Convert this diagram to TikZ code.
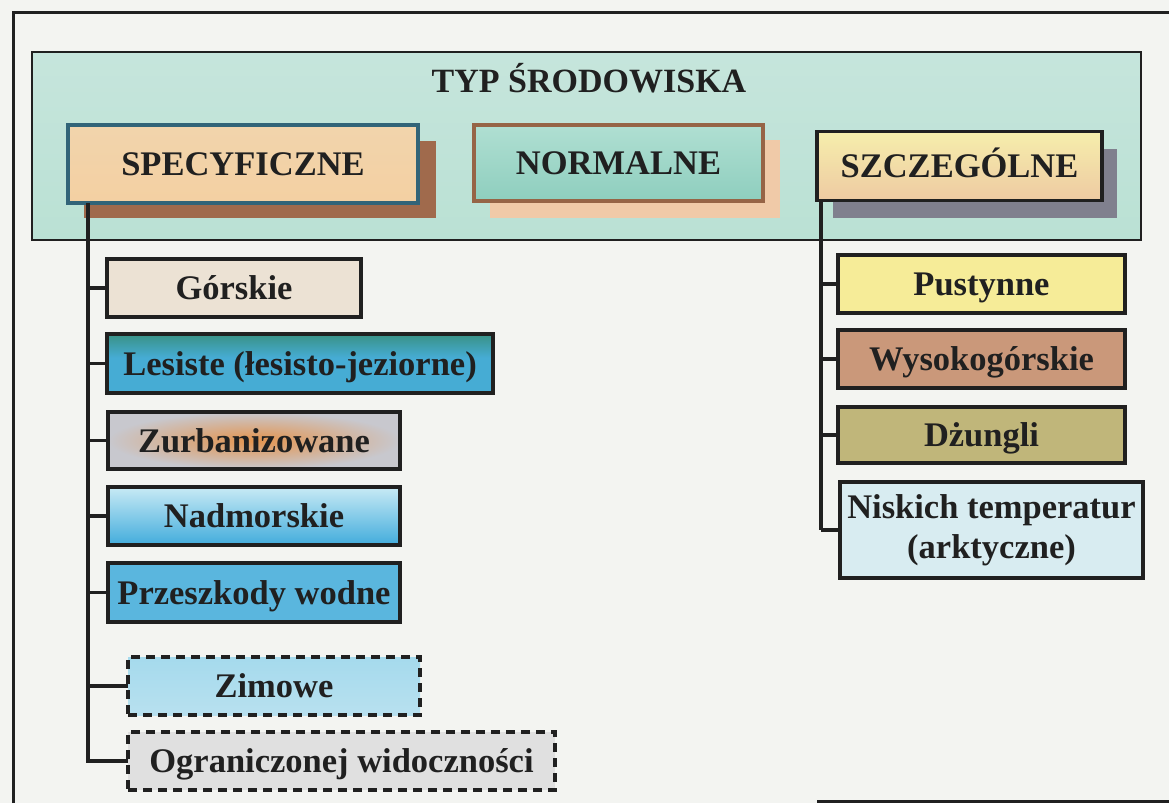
\documentclass[tikz,border=0pt]{standalone}
\usepackage{fontspec}
\setmainfont{Liberation Serif}
\definecolor{paper}{RGB}{243,244,241}
\definecolor{ink}{RGB}{32,32,32}
\definecolor{mintA}{RGB}{198,229,220}
\definecolor{mintB}{RGB}{226,241,234}
\definecolor{mintC}{RGB}{186,225,212}
\definecolor{tanA}{RGB}{242,212,172}
\definecolor{leaf}{RGB}{166,205,98}
\definecolor{tanB}{RGB}{243,208,162}
\definecolor{specedge}{RGB}{50,100,120}
\definecolor{shbrown}{RGB}{160,106,76}
\definecolor{normA}{RGB}{176,223,210}
\definecolor{normB}{RGB}{142,206,190}
\definecolor{normedge}{RGB}{150,100,70}
\definecolor{shpeach}{RGB}{240,202,168}
\definecolor{szA}{RGB}{246,238,172}
\definecolor{szB}{RGB}{238,202,162}
\definecolor{shgray}{RGB}{128,128,142}
\definecolor{gorsF}{RGB}{236,226,212}
\definecolor{lesG}{RGB}{52,136,106}
\definecolor{lesB}{RGB}{70,172,212}
\definecolor{zurbO}{RGB}{228,148,78}
\definecolor{zurbG}{RGB}{200,200,206}
\definecolor{nadA}{RGB}{200,234,245}
\definecolor{nadB}{RGB}{66,172,220}
\definecolor{przF}{RGB}{90,182,222}
\definecolor{zimA}{RGB}{165,218,237}
\definecolor{zimB}{RGB}{228,240,243}
\definecolor{ogrF}{RGB}{224,224,224}
\definecolor{pustF}{RGB}{246,236,152}
\definecolor{wysF}{RGB}{202,152,122}
\definecolor{dzuF}{RGB}{192,182,122}
\definecolor{niskF}{RGB}{216,236,241}
\pgfdeclareverticalshading{lesshade}{100bp}{color(0bp)=(lesB); color(55bp)=(lesB); color(82bp)=(lesG); color(100bp)=(lesG)}
\begin{document}
\begin{tikzpicture}[x=1pt,y=-1pt,
  frame/.style={draw=ink, line width=3pt},
  boxbase/.style={draw=ink, line width=3.2pt, inner sep=0pt, outer sep=0pt, text=ink, align=center,
    font=\bfseries\fontsize{34.5}{40}\selectfont},
  box/.style={boxbase, text height=23pt, text depth=0pt},
  dashbox/.style={box, dash pattern=on 9pt off 6pt},
  titlebox/.style={draw=ink, line width=2.4pt, inner sep=0pt, outer sep=0pt,
    top color=mintA, middle color=mintB, bottom color=mintC},
  ttext/.style={text=ink, inner sep=0pt, text height=23pt, text depth=0pt,
    font=\bfseries\fontsize{34}{40}\selectfont},
  trunk/.style={draw=ink, line width=3.5pt}]
\useasboundingbox (0,0) rectangle (1169,803);
\fill[paper] (0,0) rectangle (1169,803);
% page frame
\draw[frame] (13,803) -- (13,12) -- (1169,12);
\draw[frame] (817,801) -- (1169,801);
% title panel
\node[titlebox, minimum width=1109pt, minimum height=188pt] (tbox) at (586.5,146) {};
\node[ttext] (title) at (589,81) {TYP ŚRODOWISKA};
% shadows
\fill[shbrown] (84,141) rectangle (436,218);
\fill[shpeach] (490,140) rectangle (780,218);
\fill[shgray] (833,149) rectangle (1117,218);
% category boxes
\node[box, draw=specedge, top color=tanA, middle color=leaf, bottom color=tanB,
  minimum width=350pt, minimum height=78pt] (spec) at (243,164) {SPECYFICZNE};
\node[box, draw=normedge, top color=normA, bottom color=normB,
  minimum width=289pt, minimum height=76pt] (norm) at (618.5,163) {NORMALNE};
\node[box, top color=szA, bottom color=szB,
  minimum width=285pt, minimum height=69pt] (szcz) at (959.5,166) {SZCZEGÓLNE};
% left list
\node[box, fill=gorsF, minimum width=254pt, minimum height=58pt] (gors) at (234,288) {Górskie};
\node[box, shading=lesshade, minimum width=386pt, minimum height=59pt] (les) at (300,363.5) {Lesiste (łesisto-jeziorne)};
\node[box, inner color=zurbO, outer color=zurbG, minimum width=292pt, minimum height=57pt] (zurb) at (254,440.5) {Zurbanizowane};
\node[box, top color=nadA, bottom color=nadB, minimum width=292pt, minimum height=58pt] (nadm) at (254,516) {Nadmorskie};
\node[box, fill=przF, minimum width=292pt, minimum height=59pt] (prz) at (254,592.5) {Przeszkody wodne};
\node[dashbox, top color=zimA, middle color=zimB, bottom color=zimA!70!zimB, minimum width=292pt, minimum height=58pt] (zim) at (274,686) {Zimowe};
\node[dashbox, fill=ogrF, minimum width=427pt, minimum height=58pt] (ogr) at (341.5,761) {Ograniczonej widoczności};
% right list
\node[box, fill=pustF, minimum width=287pt, minimum height=58pt] (pust) at (981.5,284) {Pustynne};
\node[box, fill=wysF, minimum width=287pt, minimum height=58pt] (wys) at (981.5,359) {Wysokogórskie};
\node[box, fill=dzuF, minimum width=287pt, minimum height=56pt] (dzu) at (981.5,435) {Dżungli};
\node[boxbase, fill=niskF, minimum width=303pt, minimum height=96pt] (nisk) at (991.5,530) {Niskich temperatur\\(arktyczne)};
% connectors
\draw[trunk] ([xshift=20pt]spec.south west) coordinate (Ltop) |- (ogr.west);
\foreach \n in {gors,les,zurb,nadm,prz,zim} \draw[trunk] (Ltop |- \n.west) -- (\n.west);
\draw[trunk] ([xshift=4pt]szcz.south west) coordinate (Rtop) -- (Rtop |- nisk.west);
\foreach \n in {pust,wys,dzu,nisk} \draw[trunk] (Rtop |- \n.west) -- (\n.west);
\end{tikzpicture}
\end{document}
